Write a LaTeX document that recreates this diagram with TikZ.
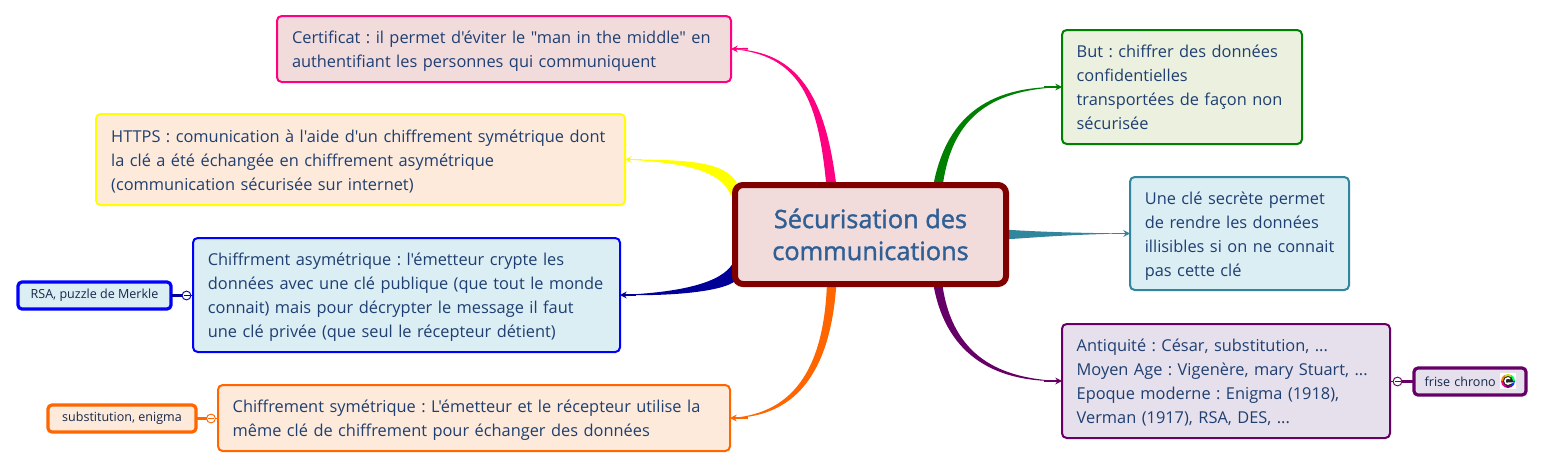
\documentclass[tikz,border=0pt]{standalone}
\usepackage{fontspec}
\setmainfont{Open Sans}[Ligatures=TeXOff]
\frenchspacing
\usetikzlibrary{calc,arrows.meta,backgrounds}
\definecolor{txt}{HTML}{1F3F72}
\definecolor{txtsmall}{HTML}{14284A}
\definecolor{rootc}{HTML}{2F5F94}
\definecolor{cpink}{HTML}{FF0080}
\definecolor{fpink}{HTML}{F2DCDB}
\definecolor{cgreen}{HTML}{008000}
\definecolor{fgreen}{HTML}{EBF1DE}
\definecolor{cteal}{HTML}{31859C}
\definecolor{fteal}{HTML}{DBEEF4}
\definecolor{cpurple}{HTML}{660066}
\definecolor{fpurple}{HTML}{E5E0EC}
\definecolor{cyellow}{HTML}{FFFF00}
\definecolor{fyellow}{HTML}{FDEADA}
\definecolor{cblue}{HTML}{0000FF}
\definecolor{cnavy}{HTML}{000099}
\definecolor{corange}{HTML}{FF6600}
\definecolor{croot}{HTML}{800000}
\newcommand{\firstln}{\rule{0pt}{13.2pt}}
\newcommand{\firstlnb}{\rule{0pt}{14.7pt}}
\newcommand{\lastln}{\rule[-3.5pt]{0pt}{3.5pt}}
\newcommand{\tl}[1]{\makebox[0pt][l]{#1}}
\tikzset{
  x=0.75pt,y=-0.75pt,
  topic/.style={draw=#1,line width=1.5pt,rounded corners=3.5pt,inner sep=0pt,outer sep=0pt,
    text=txt,font=\fontsize{12.28}{18}\selectfont,anchor=center,
    execute at begin node=\firstln,execute at end node=\lastln},
  subtopic/.style={draw=#1,line width=2.4pt,rounded corners=3pt,inner sep=0pt,outer sep=0pt,
    text=txtsmall,font=\fontsize{9.4}{12}\selectfont,anchor=center,align=center},
  rootbox/.style={draw=croot,line width=4.5pt,rounded corners=6pt,fill=fpink,inner sep=0pt,outer sep=0pt,
    text=rootc,align=center,anchor=center,font=\fontsize{19}{24}\selectfont\addfontfeature{FakeBold=1.5}},
  tiparrow/.style={draw=#1,line width=1.2pt,-{Stealth[length=5pt,width=5pt]}},
  foldmark/.style={draw=#1,fill=white,line width=0.7pt,circle,minimum size=6.6pt,inner sep=0pt,outer sep=0pt},
  foldbar/.style={draw=#1,line width=0.6pt},
  stem/.style={draw=#1,line width=1.9pt},
}
\begin{document}
\begin{tikzpicture}
\useasboundingbox (0,0) rectangle (1543,468);
% central topic
\node[rootbox,minimum width=203.25pt,minimum height=74.25pt] (root) at (870.5,234.5) {Sécurisation des\\communications};
% main topics
\node[topic=cpink,fill=fpink,minimum width=340.5pt,minimum height=49.5pt,text width=318pt,align=left] (pink) at (504,49)
  {\tl{Certificat : il permet d'éviter le "man in the middle" en}\\\tl{authentifiant les personnes qui communiquent}};
\node[topic=cyellow,fill=fyellow,minimum width=396.75pt,minimum height=68.25pt,text width=374pt,align=left] (yellow) at (360.5,159.5)
  {\firstlnb\tl{HTTPS : comunication à l'aide d'un chiffrement symétrique dont}\\\tl{la clé a été échangée en chiffrement asymétrique}\\\tl{(communication sécurisée sur internet)}};
\node[topic=cblue,fill=fteal,minimum width=320.25pt,minimum height=85.5pt,text width=298pt,align=left] (blue) at (406.5,295)
  {\tl{Chiffrment asymétrique : l'émetteur crypte les}\\\tl{données avec une clé publique (que tout le monde}\\\tl{connait) mais pour décrypter le message il faut}\\\tl{une clé privée (que seul le récepteur détient)}};
\node[topic=corange,fill=fyellow,minimum width=384pt,minimum height=49.5pt,text width=362pt,align=left] (orange) at (474,418)
  {\tl{Chiffrement symétrique : L'émetteur et le récepteur utilise la}\\\tl{même clé de chiffrement pour échanger des données}};
\node[topic=cgreen,fill=fgreen,minimum width=180pt,minimum height=85.5pt,text width=158pt,align=left] (green) at (1182,87)
  {\tl{But : chiffrer des données}\\\tl{confidentielles}\\\tl{transportées de façon non}\\\tl{sécurisée}};
\node[topic=cteal,fill=fteal,minimum width=164.25pt,minimum height=84.75pt,text width=142pt,align=left] (teal) at (1239.5,233.5)
  {\firstlnb\tl{Une clé secrète permet}\\\tl{de rendre les données}\\\tl{illisibles si on ne connait}\\\tl{pas cette clé}};
\node[topic=cpurple,fill=fpurple,minimum width=246pt,minimum height=85.5pt,text width=224pt,align=left] (purple) at (1226,381)
  {\tl{Antiquité : César, substitution, ...}\\\tl{Moyen Age : Vigenère, mary Stuart, ...}\\\tl{Epoque moderne : Enigma (1918),}\\\tl{Verman (1917), RSA, DES, ...}};
% sub topics
\node[subtopic=cblue,fill=fteal,minimum width=114.75pt,minimum height=20.25pt] (rsa) at (94.5,295.5) {RSA, puzzle de Merkle};
\node[subtopic=corange,fill=fyellow,minimum width=111pt,minimum height=20.25pt] (subst) at (122,418.5) {substitution, enigma};
\node[subtopic=cpurple,fill=fpurple,minimum width=84pt,minimum height=20.25pt,text width=80pt,align=left] (frise) at (1470,381.5) {\hspace*{6pt}frise chrono};
% fold marks
\node[foldmark=cnavy] (fa) at (186.5,295.5) {};
\node[foldmark=corange] (fb) at (211,418.5) {};
\node[foldmark=cpurple] (fc) at (1397.5,381.5) {};
\draw[foldbar=cnavy] ($(fa.center)+(-3,0)$) -- ($(fa.center)+(3,0)$);
\draw[foldbar=corange] ($(fb.center)+(-3,0)$) -- ($(fb.center)+(3,0)$);
\draw[foldbar=cpurple] ($(fc.center)+(-3,0)$) -- ($(fc.center)+(3,0)$);
\draw[stem=cnavy] (rsa.east) -- (fa.west);
\draw[stem=corange] (subst.east) -- (fb.west);
\draw[stem=cpurple] (frise.west) -- (fc.east);
\draw[cnavy,line width=0.6pt] (fa.east) -- (blue.west |- fa.east);
\draw[corange,line width=0.6pt] (fb.east) -- (orange.west |- fb.east);
\draw[cpurple,line width=0.6pt] (fc.west) -- (purple.east |- fc.west);
% icon
\coordinate (ic) at (1508,381);
\fill[white] ($(ic)+(-8,-8)$) rectangle ($(ic)+(8,8)$);
\foreach \a/\c in {0/blue!80!cyan,60/violet,120/magenta,180/orange,240/yellow!80!green,300/green!60!cyan}{
  \fill[\c] (ic) -- ++(\a:7) arc[start angle=\a,delta angle=61,radius=7] -- cycle;}
\fill[black!85] (ic) circle[radius=5];
\draw[white,line width=1.1pt] ($(ic)+(2.2,-2.2)$) arc[start angle=-45,delta angle=-270,radius=3.1] -- ++(-2.6,0);
% branches
\begin{scope}[on background layer]
\fill[white] (0,0) rectangle (1543,468);
\fill[cpink] ($(root.north west)+(91.5,2)$) .. controls (818.5,101) and (801,54.5) .. (pink.east)
  .. controls (799,50) and (826,98) .. ($(root.north west)+(101.5,2)$) -- cycle;
\draw[tiparrow=cpink] (748,48.7) -- (pink.east);
\fill[cgreen] ($(root.north west)+(198,2)$) .. controls (945,120) and (985,85.5) .. (green.west)
  .. controls (985,90) and (951,122) .. ($(root.north west)+(207.5,2)$) -- cycle;
\draw[tiparrow=cgreen] (1044,87) -- (green.west);
\fill[cteal] ($(root.east)+(-2,-5)$) .. controls (1040,232) and (1080,233) .. (teal.west)
  .. controls (1080,234) and (1040,237) .. ($(root.east)+(-2,5)$) -- cycle;
\draw[tiparrow=cteal] (1112,233.5) -- (teal.west);
\fill[cpurple] ($(root.south west)+(198,-2)$) .. controls (944,351) and (990,383) .. (purple.west)
  .. controls (990,379) and (950.5,348.5) .. ($(root.south west)+(207,-2)$) -- cycle;
\draw[tiparrow=cpurple] (1044,381) -- (purple.west);
\fill[cyellow] (731,196) .. controls (722,172) and (690,163) .. (yellow.east)
  .. controls (690,159.5) and (725,162) .. (737,183) -- cycle;
\draw[tiparrow=cyellow] (642,159.5) -- (yellow.east);
\fill[cnavy] (733,263) .. controls (722,283) and (680,292.5) .. (blue.east)
  .. controls (680,296.5) and (730,290) .. (737,279) -- cycle;
\draw[tiparrow=cnavy] (636,295) -- (blue.east);
\fill[corange] ($(root.south west)+(92,-2)$) .. controls (824.5,361.5) and (798,414) .. (orange.east)
  .. controls (802,418) and (831.5,363) .. ($(root.south west)+(101.5,-2)$) -- cycle;
\draw[tiparrow=corange] (748,418) -- (orange.east);
\end{scope}
\end{tikzpicture}
\end{document}
